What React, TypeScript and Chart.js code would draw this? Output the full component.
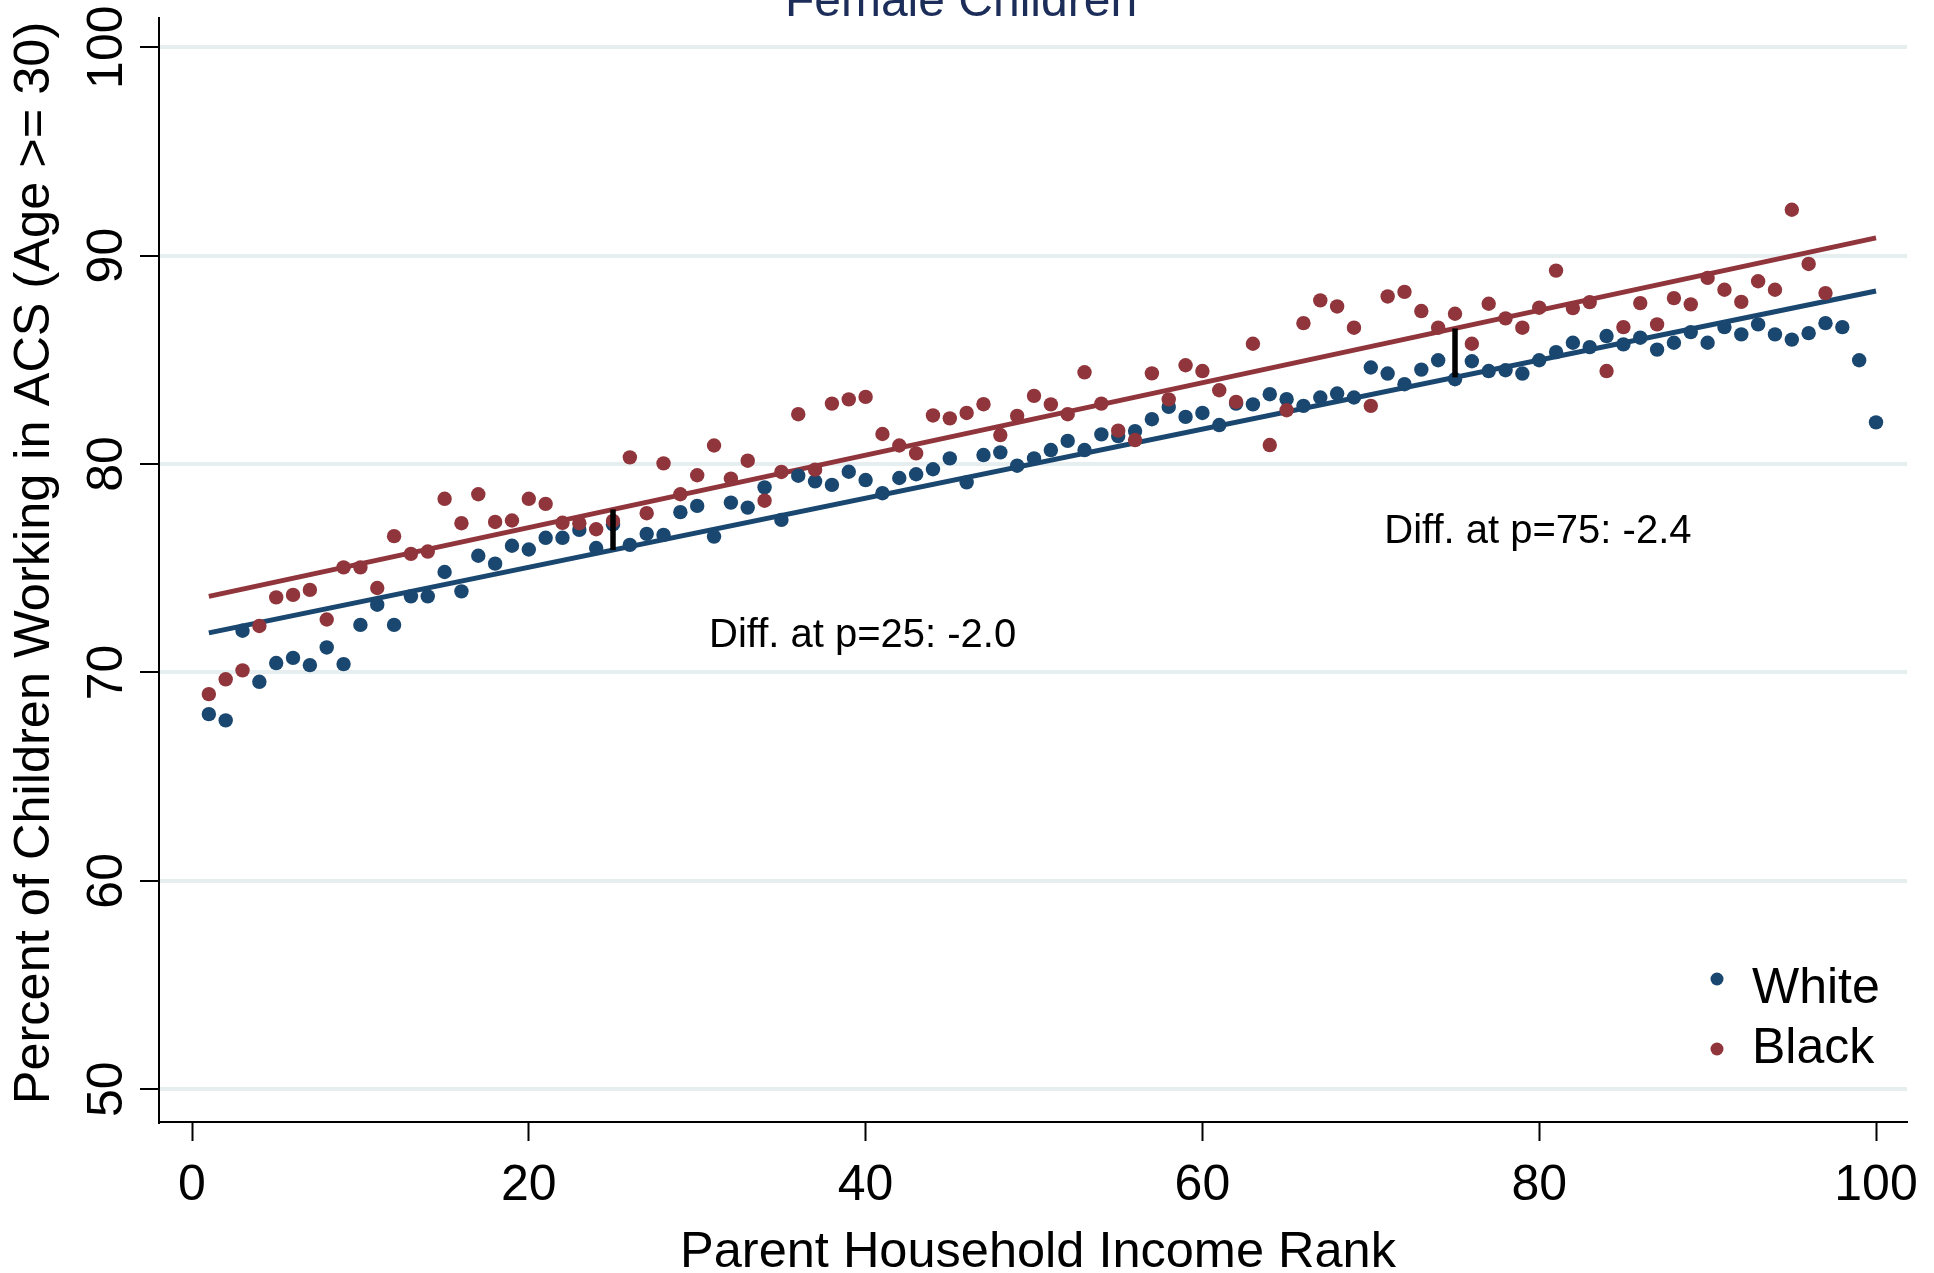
import React, { useEffect, useRef } from "react";
import { Chart, registerables } from "chart.js";

Chart.register(...registerables);

// ---------- data ----------
const titleText = "Female Children";
const xAxisTitle = "Parent Household Income Rank";
const yAxisTitle = "Percent of Children Working in ACS (Age >= 30)";
const xTicks = [0, 20, 40, 60, 80, 100];
const yTicks = [50, 60, 70, 80, 90, 100];
const seriesNames = ["White", "Black"];

const whiteRanks = [
  1, 2, 3, 4, 5, 6, 7, 8, 9, 10, 11, 12, 13, 14, 15, 16, 17, 18, 19, 20,
  21, 22, 23, 24, 25, 26, 27, 28, 29, 30, 31, 32, 33, 34, 35, 36, 37, 38, 39, 40,
  41, 42, 43, 44, 45, 46, 47, 48, 49, 50, 51, 52, 53, 54, 55, 56, 57, 58, 59, 60,
  61, 62, 63, 64, 65, 66, 67, 68, 69, 70, 71, 72, 73, 74, 75, 76, 77, 78, 79, 80,
  81, 82, 83, 84, 85, 86, 87, 88, 89, 90, 91, 92, 93, 94, 95, 96, 97, 98, 99, 100,
];
const whiteValues = [
  68.0, 67.7, 72.0, 69.55, 70.45, 70.7, 70.35, 71.2, 70.4, 72.28,
  73.25, 72.28, 73.65, 73.65, 74.82, 73.89, 75.6, 75.22, 76.08, 75.9,
  76.46, 76.46, 76.84, 75.97, 77.1, 76.12, 76.65, 76.6, 77.69, 77.99,
  76.52, 78.15, 77.91, 78.88, 77.32, 79.44, 79.17, 79.0, 79.63, 79.23,
  78.6, 79.33, 79.51, 79.75, 80.27, 79.12, 80.43, 80.56, 79.92, 80.27,
  80.67, 81.11, 80.67, 81.42, 81.34, 81.58, 82.15, 82.74, 82.26, 82.45,
  81.87, 82.9, 82.86, 83.35, 83.11, 82.79, 83.19, 83.38, 83.19, 84.63,
  84.34, 83.83, 84.53, 84.98, 84.07, 84.93, 84.46, 84.5, 84.34, 84.98,
  85.37, 85.82, 85.61, 86.14, 85.74, 86.06, 85.49, 85.82, 86.33, 85.82,
  86.57, 86.22, 86.7, 86.22, 85.97, 86.28, 86.76, 86.57, 84.98, 82.0,
];

const blackRanks = [
  1, 2, 3, 4, 5, 6, 7, 8, 9, 10, 11, 12, 13, 14, 15, 16, 17, 18, 19, 20,
  21, 22, 23, 24, 25, 26, 27, 28, 29, 30, 31, 32, 33, 34, 35, 36, 37, 38, 39, 40,
  41, 42, 43, 44, 45, 46, 47, 48, 49, 50, 51, 52, 53, 54, 55, 56, 57, 58, 59, 60,
  61, 62, 63, 64, 65, 66, 67, 68, 69, 70, 71, 72, 73, 74, 75, 76, 77, 78, 79, 80,
  81, 82, 83, 84, 85, 86, 87, 88, 89, 90, 91, 92, 93, 94, 95, 96, 97,
];
const blackValues = [
  68.96, 69.67, 70.1, 72.23, 73.6, 73.72, 73.96, 72.54, 75.04, 75.04,
  74.05, 76.54, 75.69, 75.8, 78.33, 77.16, 78.55, 77.22, 77.29, 78.33,
  78.09, 77.18, 77.16, 76.87, 77.27, 80.32, 77.64, 80.03, 78.55, 79.46,
  80.89, 79.3, 80.16, 78.24, 79.62, 82.39, 79.73, 82.9, 83.1, 83.22,
  81.44, 80.89, 80.51, 82.33, 82.19, 82.45, 82.87, 81.39, 82.31, 83.27,
  82.86, 82.39, 84.4, 82.9, 81.6, 81.15, 84.35, 83.1, 84.74, 84.46,
  83.54, 82.98, 85.77, 80.91, 82.58, 86.76, 87.85, 87.56, 86.54, 82.79,
  88.04, 88.26, 87.34, 86.54, 87.21, 85.77, 87.69, 86.99, 86.54, 87.5,
  89.28, 87.48, 87.77, 84.46, 86.57, 87.72, 86.7, 87.96, 87.66, 88.93,
  88.36, 87.78, 88.77, 88.36, 92.2, 89.6, 88.2,
];

// fitted lines (values at the two end ranks)
const fitRanks = [1, 100];
const whiteFit = [71.9, 88.3];
const blackFit = [73.65, 90.85];

// difference markers
const diffRanks = [25, 75];
const diffLabels = ["Diff. at p=25: -2.0", "Diff. at p=75: -2.4"];
const diffLabelX = [30.7, 70.8];
const diffLabelY = [71.75, 76.74];

// ---------- style ----------
const FONT = '"Liberation Sans", Arial, Helvetica, sans-serif';
const BLUE = "#1a476f";
const RED = "#90353b";
const TITLE_COLOR = "#1c2d59";
const GRID = "#e7eef0";
const W = 1934;
const H = 1273;

function interp(ranks: number[], vals: number[], x: number) {
  const t = (x - ranks[0]) / (ranks[1] - ranks[0]);
  return vals[0] + t * (vals[1] - vals[0]);
}

const textPlugin = {
  id: "customTexts",
  afterDraw(chart: any) {
    const ctx = chart.ctx as CanvasRenderingContext2D;
    const xs = chart.scales.x;
    const ys = chart.scales.y;
    ctx.save();
    // title
    ctx.fillStyle = TITLE_COLOR;
    ctx.font = `48px ${FONT}`;
    ctx.textAlign = "center";
    ctx.textBaseline = "alphabetic";
    ctx.fillText(titleText, 961, 16);

    // y tick labels (rotated)
    ctx.fillStyle = "#000";
    ctx.font = `50px ${FONT}`;
    yTicks.forEach((v) => {
      const py = ys.getPixelForValue(v);
      ctx.save();
      ctx.translate(122, py);
      ctx.rotate(-Math.PI / 2);
      ctx.textAlign = "center";
      ctx.textBaseline = "alphabetic";
      ctx.fillText(String(v), 0, 0);
      ctx.restore();
    });

    // y axis title
    ctx.save();
    ctx.translate(49, 563);
    ctx.rotate(-Math.PI / 2);
    ctx.font = `50.5px ${FONT}`;
    ctx.textAlign = "center";
    ctx.textBaseline = "alphabetic";
    ctx.fillText(yAxisTitle, 0, 0);
    ctx.restore();

    // x axis title
    ctx.font = `50.5px ${FONT}`;
    ctx.textAlign = "center";
    ctx.textBaseline = "alphabetic";
    ctx.fillText(xAxisTitle, 1038, 1267);

    // diff labels
    ctx.font = `40px ${FONT}`;
    ctx.textAlign = "left";
    ctx.textBaseline = "middle";
    diffLabels.forEach((s, i) => {
      ctx.fillText(s, xs.getPixelForValue(diffLabelX[i]), ys.getPixelForValue(diffLabelY[i]));
    });

    // legend
    const legendColors = [BLUE, RED];
    const dotY = [979, 1049];
    const textY = [1003, 1063];
    ctx.font = `50px ${FONT}`;
    ctx.textBaseline = "alphabetic";
    seriesNames.forEach((name, i) => {
      ctx.fillStyle = legendColors[i];
      ctx.beginPath();
      ctx.arc(1717, dotY[i], 6.5, 0, Math.PI * 2);
      ctx.fill();
      ctx.fillStyle = "#000";
      ctx.fillText(name, 1752, textY[i]);
    });
    ctx.restore();
  },
};

export default function App() {
  const canvasRef = useRef<HTMLCanvasElement | null>(null);

  useEffect(() => {
    const canvas = canvasRef.current;
    if (!canvas) return;

    const white = whiteRanks.map((r, i) => ({ x: r, y: whiteValues[i] }));
    const black = blackRanks.map((r, i) => ({ x: r, y: blackValues[i] }));
    const wFit = fitRanks.map((r, i) => ({ x: r, y: whiteFit[i] }));
    const bFit = fitRanks.map((r, i) => ({ x: r, y: blackFit[i] }));
    const diffSets = diffRanks.map((p) => ({
      type: "scatter" as const,
      data: [
        { x: p, y: interp(fitRanks, whiteFit, p) },
        { x: p, y: interp(fitRanks, blackFit, p) },
      ],
      showLine: true,
      borderColor: "#000",
      borderWidth: 5.5,
      pointRadius: 0,
      order: 0,
    }));

    const chart = new Chart(canvas, {
      type: "scatter",
      data: {
        datasets: [
          ...diffSets,
          {
            label: seriesNames[1],
            data: black,
            backgroundColor: RED,
            borderWidth: 0,
            pointRadius: 7.2,
            pointHoverRadius: 7.2,
            order: 1,
          },
          {
            label: seriesNames[0],
            data: white,
            backgroundColor: BLUE,
            borderWidth: 0,
            pointRadius: 7.2,
            pointHoverRadius: 7.2,
            order: 2,
          },
          {
            data: bFit,
            showLine: true,
            borderColor: RED,
            borderWidth: 5,
            pointRadius: 0,
            order: 3,
          },
          {
            data: wFit,
            showLine: true,
            borderColor: BLUE,
            borderWidth: 5,
            pointRadius: 0,
            order: 4,
          },
        ] as any,
      },
      options: {
        animation: false,
        responsive: false,
        devicePixelRatio: 1,
        layout: { padding: { top: 18, right: 27, left: 0, bottom: 0 } },
        plugins: { legend: { display: false }, tooltip: { enabled: false } },
        events: [],
        scales: {
          x: {
            type: "linear",
            min: -1.96,
            max: 101.84,
            afterBuildTicks: (scale: any) => {
              scale.ticks = xTicks.map((v) => ({ value: v }));
            },
            afterFit: (scale: any) => {
              scale.height = H - 1122;
            },
            ticks: {
              color: "#000",
              font: { family: FONT, size: 50 },
              padding: 15,
              maxRotation: 0,
              autoSkip: false,
            },
            grid: {
              display: true,
              drawOnChartArea: false,
              drawTicks: true,
              tickLength: 19,
              tickColor: "#000",
              tickWidth: 2,
            },
            border: { display: true, color: "#000", width: 2 },
          },
          y: {
            type: "linear",
            min: 48.43,
            max: 101.4,
            afterBuildTicks: (scale: any) => {
              scale.ticks = yTicks.map((v) => ({ value: v }));
            },
            afterFit: (scale: any) => {
              scale.width = 159;
            },
            ticks: { display: false },
            grid: {
              display: true,
              drawOnChartArea: true,
              drawTicks: true,
              color: GRID,
              lineWidth: 4,
              tickLength: 19,
              tickColor: "#000",
              tickWidth: 2,
            },
            border: { display: true, color: "#000", width: 2 },
          },
        },
      } as any,
      plugins: [textPlugin],
    });

    return () => chart.destroy();
  }, []);

  return (
    <div
      style={{
        position: "fixed",
        left: 0,
        top: 0,
        width: W,
        height: H,
        background: "#fff",
      }}
    >
      <canvas
        ref={canvasRef}
        width={W}
        height={H}
        style={{ display: "block", width: W, height: H }}
      />
    </div>
  );
}
